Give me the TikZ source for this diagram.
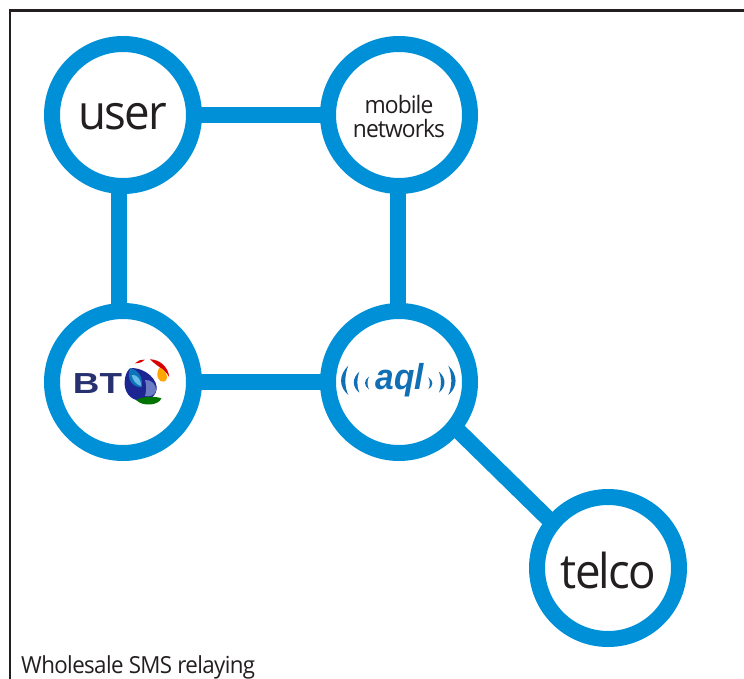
\documentclass[tikz,border=0pt]{standalone}
\usepackage{fontspec}
\setmainfont{Open Sans}
\newfontfamily\tightfont[FakeStretch=0.95,LetterSpace=-3.8]{Open Sans}
\newfontfamily\capfont[FakeStretch=0.95,LetterSpace=-2.6]{Open Sans}
\newfontfamily\btfont{Liberation Sans}
\definecolor{ringblue}{HTML}{0090D7}
\definecolor{inkblack}{HTML}{231F20}
\definecolor{aqlblue}{HTML}{1170B5}
\definecolor{btnavy}{HTML}{27316F}
\tikzset{
  hub/.style={circle,draw=ringblue,line width=16pt,minimum size=142pt,inner sep=0pt,outer sep=0pt,fill=white,text=inkblack,align=center},
  link/.style={draw=ringblue,line width=16pt},
  bigtext/.style={font=\tightfont\fontsize{48}{50}\selectfont},
  smalltext/.style={font=\tightfont\fontsize{24}{24}\selectfont},
  logotext/.style={inner sep=0pt,outer sep=0pt}
}
\begin{document}
\begin{tikzpicture}[x=1pt,y=-1pt]
\useasboundingbox (0,0) rectangle (744,679);
\coordinate (frameTR) at (744,10.5);
\coordinate (frameTL) at (10,10.5);
\coordinate (frameBL) at (10,679);
\draw[inkblack,line width=2.6pt] (frameTR) -- (frameTL) -- (frameBL);
\node[hub] (user) at (123,115) {};
\node[hub] (mobile) at (399,115) {};
\node[hub] (bt) at (123,382) {};
\node[hub] (aql) at (399,382) {};
\node[hub] (telco) at (608,568) {};
\draw[link] (user) -- (mobile);
\draw[link] (user.-93) -- (bt.93);
\draw[link] (mobile.-91) -- (aql.91);
\draw[link] (bt) -- (aql);
\draw[link] (aql.-39) -- (telco.141);
\node[inner sep=0pt,text=inkblack,bigtext] (userword) at (122.5,117) {user};
\node[inner sep=0pt,text=inkblack,bigtext] (telcoword) at (608.5,570) {telco};
\node[inner sep=0pt,text=inkblack,smalltext] (mobileword) at (399,105) {mobile};
\node[inner sep=0pt,text=inkblack,smalltext] (networksword) at (399,128.5) {networks};
\node[anchor=base west,inner sep=0pt,text=inkblack,font=\capfont\fontsize{23.5}{24}\selectfont] (caption) at (21,673) {Wholesale SMS relaying};
% BT logo
\node[logotext,text=btnavy,font=\btfont\bfseries\fontsize{29}{29}\selectfont] (btword) at (97.5,384) {\scalebox{1.27}[1]{BT}};
\begin{scope}[shift={(40,300)},x=0.3333pt,y=-0.3333pt]
\fill[btnavy!75!blue] (270,205) .. controls (300,200) and (345,225) .. (350,260) .. controls (352,285) and (330,305) .. (300,302) .. controls (270,300) and (252,275) .. (254,245) .. controls (255,225) and (262,212) .. (270,205) -- cycle;
\fill[ringblue!70!btnavy] (270,205) .. controls (296,208) and (310,235) .. (305,262) .. controls (280,262) and (258,240) .. (270,205) -- cycle;
\fill[ringblue!60!white] (275,225) .. controls (290,222) and (303,238) .. (304,258) .. controls (290,255) and (278,242) .. (275,225) -- cycle;
\fill[violet!45!ringblue!75!white] (315,240) .. controls (335,238) and (350,255) .. (348,272) .. controls (345,285) and (330,292) .. (315,288) .. controls (320,272) and (320,255) .. (315,240) -- cycle;
\fill[green!45!black] (288,300) .. controls (310,288) and (345,288) .. (364,295) .. controls (358,315) and (310,322) .. (288,300) -- cycle;
\fill[red!85!black] (330,178) .. controls (358,178) and (385,200) .. (388,232) .. controls (378,210) and (352,200) .. (330,178) -- cycle;
\fill[red!85!black] (285,190) .. controls (292,182) and (302,179) .. (314,179) .. controls (308,187) and (295,190) .. (285,190) -- cycle;
\fill[orange!70!yellow] (358,203) .. controls (378,208) and (390,238) .. (372,245) .. controls (355,248) and (345,225) .. (358,203) -- cycle;
\end{scope}
% aql logo
\node[logotext,text=aqlblue,font=\btfont\bfseries\itshape\fontsize{36}{36}\selectfont] (aqlword) at (400,380) {\scalebox{0.93}[1]{aql}};
\begin{scope}[shift={(320,300)},x=0.3333pt,y=-0.3333pt]
\fill[aqlblue] (85,197) .. controls (56,225) and (56,260) .. (85,285) .. controls (73,260) and (73,225) .. (85,197) -- cycle;
\fill[aqlblue] (118,215) .. controls (96,235) and (96,260) .. (118,278) .. controls (110,260) and (110,235) .. (118,215) -- cycle;
\fill[aqlblue] (147,230) .. controls (131,240) and (131,258) .. (147,268) .. controls (141,258) and (141,240) .. (147,230) -- cycle;
\fill[aqlblue] (325,232) .. controls (341,242) and (341,258) .. (325,268) .. controls (331,258) and (331,242) .. (325,232) -- cycle;
\fill[aqlblue] (357,215) .. controls (379,235) and (379,260) .. (357,278) .. controls (365,260) and (365,235) .. (357,215) -- cycle;
\fill[aqlblue] (385,197) .. controls (414,225) and (414,260) .. (385,285) .. controls (397,260) and (397,225) .. (385,197) -- cycle;
\end{scope}
\end{tikzpicture}
\end{document}
